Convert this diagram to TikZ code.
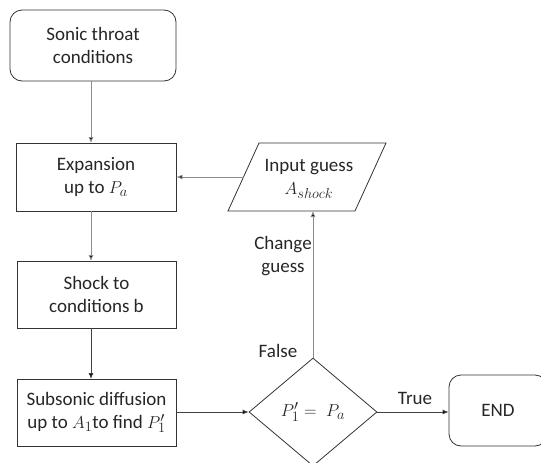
\documentclass[tikz,border=0pt]{standalone}
\usepackage{fontspec}
\setmainfont{Carlito}
\usetikzlibrary{shapes.geometric,arrows.meta}
\begin{document}
\begin{tikzpicture}[x=1pt,y=-1pt,
  every node/.style={font=\fontsize{19}{23}\selectfont, text=black!85, align=center},
  boxstyle/.style={draw=black!80, line width=0.8pt, inner sep=0pt},
  roundbox/.style={boxstyle, rounded corners=12pt},
  decision/.style={draw=black!80, line width=0.8pt, diamond, inner sep=0pt, minimum width=128pt, minimum height=108pt},
  lightarrow/.style={draw=black!45, line width=0.8pt, -{Latex[length=6pt,width=5pt,fill=black]}},
  darkarrow/.style={draw=black!75, line width=0.8pt, -{Latex[length=6pt,width=5pt,fill=black]}},
  lbl/.style={inner sep=0pt}
]
\useasboundingbox (0,0) rectangle (541,463);
\clip (0,0) rectangle (541,463);

\node[roundbox, minimum width=166pt, minimum height=71pt] (start) at (93,45.5) {Sonic throat\\conditions};
\node[boxstyle, minimum width=160pt, minimum height=68pt] (exp) at (96,177) {Expansion\\up to $P_a$};
\node[boxstyle, minimum width=159pt, minimum height=67pt] (shock) at (96.5,294.5) {Shock to\\conditions b};
\node[boxstyle, minimum width=159pt, minimum height=67pt] (sub) at (96.5,412.5) {Subsonic diffusion\\up to $A_1$to find $P_1'$};

% input parallelogram
\draw[draw=black!80, line width=0.8pt] (228,211) -- (259,143) -- (386,143) -- (355,211) -- cycle;
\node[lbl] (input) at (309,179) {Input guess\\$A_{shock}$};
\coordinate (inL) at (243.5,177);
\coordinate (inB) at (313,211);

\node[decision] (dec) at (313,412) {$P_1'=\;P_a$};
\node[roundbox, minimum width=98pt, minimum height=71pt] (end) at (498,410.5) {END};

\draw[lightarrow] (start.south -| 91,0) -- (91,143);
\draw[lightarrow] (inL) -- (exp.east |- inL);
\draw[lightarrow] (exp.south -| 91,0) -- (91,261);
\draw[darkarrow] (shock.south -| 91,0) -- (91,379);
\draw[darkarrow] (sub.east |- dec.west) -- (dec.west);
\draw[darkarrow] (dec.east) -- (end.west |- dec.east);
\draw[lightarrow] (dec.north) -- (inB);

\node[lbl] (chg) at (283,256) {Change\\guess};
\node[lbl] (false) at (278,351) {False};
\node[lbl] (true) at (415,398) {True};
\end{tikzpicture}
\end{document}
